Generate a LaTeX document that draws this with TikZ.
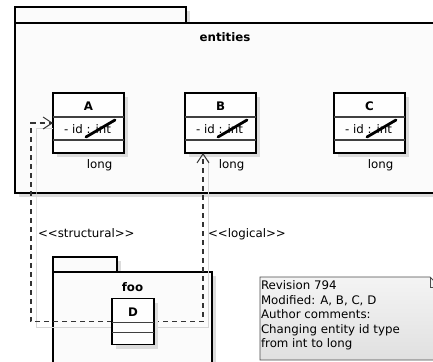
\documentclass[tikz,border=0pt]{standalone}
\usepackage{fontspec}
\setmainfont{DejaVu Sans}
\usetikzlibrary{arrows.meta,calc,shadows}
\definecolor{pkgfill}{HTML}{FBFBFB}
\definecolor{boxfill}{HTML}{FEFEFE}
\definecolor{shade}{HTML}{DCDCDC}
\definecolor{notetop}{HTML}{F4F4F4}
\definecolor{notebot}{HTML}{E0E0E0}
\begin{document}
\begin{tikzpicture}[x=1pt,y=-1pt,
  every node/.style={font=\fontsize{11.8}{14.6}\selectfont, inner sep=0pt, outer sep=0pt},
  txt/.style={anchor=base},
  ttl/.style={anchor=base, font=\fontsize{11.8}{14.6}\selectfont\bfseries},
  dshadow/.style={drop shadow={shadow xshift=4pt, shadow yshift=-4pt, fill=shade, opacity=1}},
  pkgline/.style={draw=black, line width=1.6pt, fill=pkgfill},
  classbox/.style={draw=black, line width=1.6pt, fill=boxfill, minimum width=71pt, minimum height=60pt},
  divider/.style={draw=black!75, line width=1.1pt},
  strike/.style={line width=2.8pt, line cap=round},
  dep/.style={draw=black!80, line width=1.1pt, dash pattern=on 5pt off 4pt,
    -{Straight Barb[length=9pt, width=12pt, line width=1pt]}},
  depshadow/.style={draw=black!16, line width=0.8pt},
]
\useasboundingbox (0,0) rectangle (433,361);
\fill[white] (0,0) rectangle (433,361);

% package "entities"
\draw[pkgline, dshadow] (15,7) rectangle (186,23);
\node[pkgline, dshadow, anchor=north west, minimum width=420pt, minimum height=170pt] (entities) at (15,23) {};
\node[ttl] (entitiesname) at ($(entities.north)+(0,18.5)$) {entities};

% classes A, B, C
\foreach \n/\x in {A/88.5, B/220.5, C/369.5} {
  \node[classbox, dshadow] (\n) at (\x,123) {};
  \draw[divider] ($(\n.north west)+(0,24)$) -- ($(\n.north east)+(0,24)$);
  \draw[divider] ($(\n.north west)+(0,47)$) -- ($(\n.north east)+(0,47)$);
  \node[ttl] (\n name) at ($(\n.north)+(0,17)$) {\n};
  \node[txt] (\n attr) at ($(\n.north)+(-1,40)$) {- id : int};
  \draw[strike] ($(\n.north west)+(33,44)$) -- ($(\n.north west)+(62,27)$);
  \node[txt] (\n long) at ($(\n.south)+(11,15)$) {long};
}

% package "foo"
\draw[pkgline, dshadow] (53,257) rectangle (117,272);
\node[pkgline, dshadow, anchor=north west, minimum width=159pt, minimum height=100pt] (foo) at (53,272) {};
\node[ttl] (fooname) at ($(foo.north)+(0,19)$) {foo};

% dependencies
\coordinate (sbend) at (31,200);
\coordinate (lend) at ($(B.south)+(-17.5,0)$);
\coordinate (dw) at (112,321.5);
\coordinate (de) at (154,321.5);
\draw[depshadow] ($(dw)+(0,5.5)$) -| ($(sbend)+(5,0)$) |- ($(A.west)+(0,5)$);
\draw[depshadow] ($(de)+(0,5.5)$) -| ($(lend)+(5,7)$);
\draw[dep] (dw) -| (sbend) |- (A.west);
\draw[dep] (de) -| (lend);
\node[anchor=base west] (lblS) at (38,237) {<{}<structural>{}>};
\node[anchor=base west] (lblL) at (208,237) {<{}<logical>{}>};

% class D
\node[classbox, dshadow, minimum width=42pt, minimum height=46pt] (D) at (133,321.5) {};
\draw[divider] ($(D.north west)+(0,24)$) -- ($(D.north east)+(0,24)$);
\draw[divider] ($(D.north west)+(0,34)$) -- ($(D.north east)+(0,34)$);
\node[ttl] (Dname) at ($(D.north)+(0,18)$) {D};

% note
\draw[draw=black!70, line width=0.8pt, top color=notetop, bottom color=notebot]
  (260,277) -- (430,277) -- (440,287) -- (440,360) -- (260,360) -- cycle;
\draw[draw=black!70, line width=0.8pt] (430,277) -- (430,287) -- (440,287);
\node[anchor=base west] (n1) at (261,289.5) {Revision 794};
\node[anchor=base west] (n2) at (261,304.1) {Modified: A, B, C, D};
\node[anchor=base west] (n3) at (261,318.7) {Author comments:};
\node[anchor=base west] (n4) at (261,333.3) {Changing entity id type};
\node[anchor=base west] (n5) at (261,347.9) {from int to long};
\end{tikzpicture}
\end{document}
